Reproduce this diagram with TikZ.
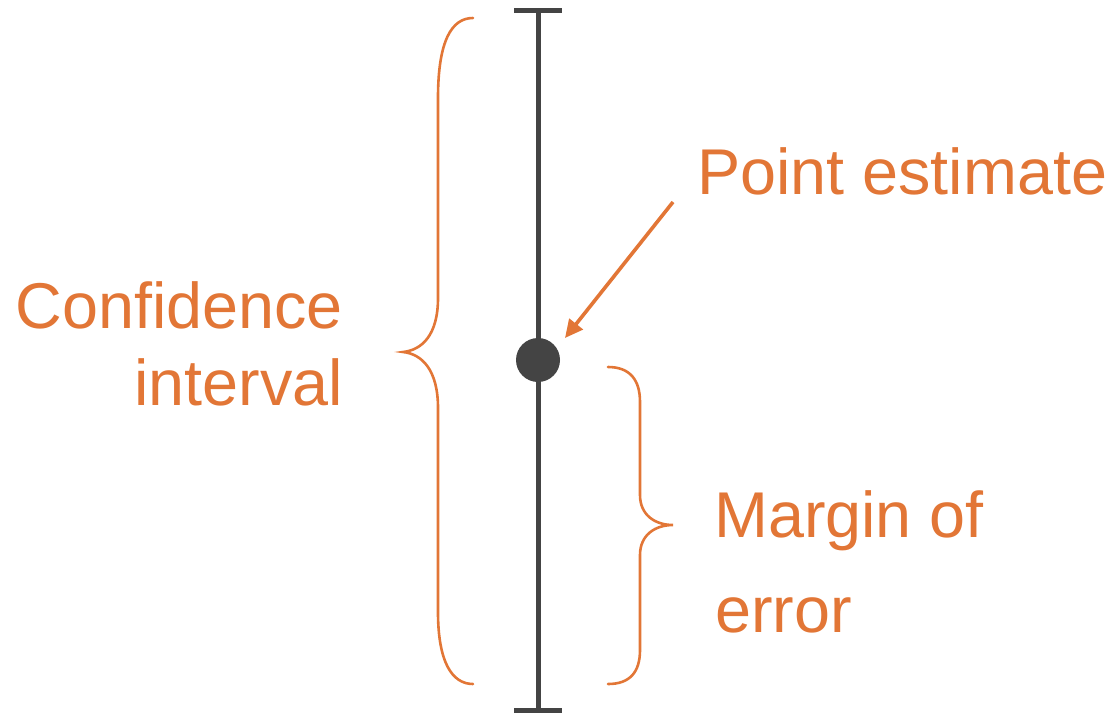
\documentclass[tikz,border=0pt]{standalone}
\usepackage{fontspec}
\setmainfont{Liberation Sans}
\usetikzlibrary{arrows.meta}
\definecolor{orng}{RGB}{226,118,54}
\definecolor{dgray}{RGB}{68,68,68}
\begin{document}
\begin{tikzpicture}[x=1pt,y=-1pt,
  lbl/.style={inner sep=0pt,text=orng,font=\fontsize{64.7}{70}\selectfont},
  bar/.style={draw=dgray,line width=5pt},
  bracepath/.style={draw=orng,line width=2.6pt,line cap=round},
  pointer/.style={draw=orng,line width=3.6pt,-{Triangle[length=18pt,width=17pt]}}]
\useasboundingbox (0,0) rectangle (1119,713);
% main interval line
\coordinate (top) at (538,10);
\coordinate (bot) at (538,710);
\coordinate (tl) at (514,10);
\coordinate (tr) at (562,10);
\coordinate (bl) at (514,710);
\coordinate (br) at (562,710);
\draw[bar] (top) -- (bot);
\draw[bar] (tl) -- (tr);
\draw[bar] (bl) -- (br);
\node[circle,fill=dgray,minimum size=44pt,inner sep=0pt] (dot) at (538,360) {};
% left brace
\draw[bracepath] (473,18) .. controls (452,18) and (438,40) .. (438,98)
  -- (438,298) .. controls (438,335) and (422,350) .. (403,352)
  .. controls (422,354) and (438,370) .. (438,408)
  -- (438,612) .. controls (438,662) and (452,684) .. (473,684);
% right brace
\draw[bracepath] (608,367) .. controls (630,367) and (640,380) .. (640,402)
  -- (640,495) .. controls (640,515) and (655,525) .. (673,525)
  .. controls (655,525) and (640,535) .. (640,555)
  -- (640,650) .. controls (640,672) and (630,684) .. (608,684);
% labels
\node[lbl,anchor=base west] (pe) at (697,194) {Point estimate};
\node[lbl,anchor=base east] (ci1) at (343,328) {Confidence};
\node[lbl,anchor=base east] (ci2) at (343,405) {interval};
\node[lbl,anchor=base west] (mo1) at (714,537) {Margin of};
\node[lbl,anchor=base west] (mo2) at (715,632) {error};
% arrow
\coordinate (astart) at (673,202);
\coordinate (aend) at (565,338);
\draw[pointer] (astart) -- (aend);
\end{tikzpicture}
\end{document}
